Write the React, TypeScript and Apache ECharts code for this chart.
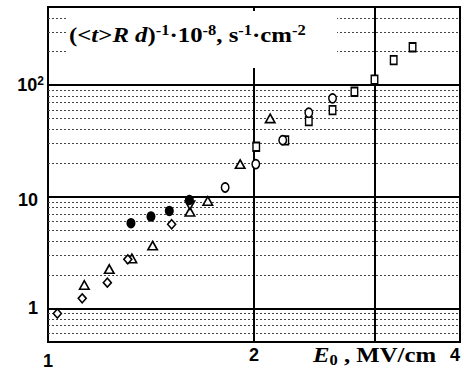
import React, { useEffect, useRef } from 'react';
import * as echarts from 'echarts';

const xTickValues = [1, 2, 4];
const yTickValues = [1, 10, 100];
const majorX = [2, 3];
const majorY = [1, 10, 100];
const minorY = [0.6, 0.7, 0.8, 0.9, 2, 3, 4, 5, 6, 7, 8, 9, 20, 30, 40, 50, 60, 70, 80, 90, 200, 300, 400];

const triangles = [[1.13, 1.62], [1.229, 2.25], [1.326, 2.8], [1.422, 3.65], [1.612, 7.35], [1.712, 9.17], [1.909, 19.6], [2.112, 50.3]];
const invTriangles = [[1.612, 8.4]];
const squares = [[2.015, 28.0], [2.222, 32.0], [2.405, 47.5], [2.605, 59.7], [2.804, 87.1], [3.0, 112], [3.2, 167], [3.41, 218]];
const openCircles = [[1.815, 12.1], [2.012, 19.6], [2.203, 32.1], [2.405, 56.5], [2.605, 76]];
const diamonds = [[1.032, 0.9], [1.122, 1.23], [1.221, 1.7], [1.308, 2.75], [1.516, 5.67]];
const filledCircles = [[1.322, 5.79], [1.414, 6.64], [1.504, 7.46], [1.609, 9.36]];

const SANS = 'Liberation Sans';
const SERIF = 'Liberation Serif';

export default function App() {
  const ref = useRef<HTMLDivElement>(null);
  useEffect(() => {
    if (!ref.current) return;
    const chart = echarts.init(ref.current, null, { renderer: 'svg' });
    const hollow = (name: string, data: number[][], symbol: string, size: number[], rotate = 0) => ({
      name,
      type: 'scatter',
      data,
      symbol,
      symbolSize: size,
      symbolRotate: rotate,
      z: 10,
      silent: true,
      itemStyle: { color: '#fff', borderColor: '#000', borderWidth: 1.6, opacity: 1 },
    });
    const option: any = {
      animation: false,
      backgroundColor: '#fff',
      grid: { left: 48, right: 4, top: 7, bottom: 34, show: true, borderColor: '#000', borderWidth: 2, backgroundColor: 'transparent' },
      xAxis: {
        type: 'log',
        logBase: 10,
        min: 1,
        max: 4,
        axisLine: { show: false },
        axisTick: { show: false },
        splitLine: { show: false },
        axisLabel: {
          customValues: xTickValues,
          margin: 4,
          fontFamily: SANS,
          fontWeight: 'bold',
          fontSize: 18,
          color: '#000',
          alignMaxLabel: 'right',
          formatter: (v: number) => (v === 1 ? '{d|1}' : '{n|' + v + '}'),
          rich: {
            d: { fontFamily: SANS, fontWeight: 'bold', fontSize: 18, color: '#000', padding: [6, 0, 0, 0] },
            n: { fontFamily: SANS, fontWeight: 'bold', fontSize: 18, color: '#000' },
          },
        },
      },
      yAxis: {
        type: 'log',
        logBase: 10,
        min: 0.5,
        max: 500,
        axisLine: { show: false },
        axisTick: { show: false },
        splitLine: { show: false },
        axisLabel: {
          customValues: yTickValues,
          margin: 4,
          fontFamily: SANS,
          fontWeight: 'bold',
          fontSize: 18,
          color: '#000',
          formatter: (v: number) => (v === 100 ? '{b|10}{sup|2}' : v === 10 ? '{c|10}' : '{a|1}'),
          rich: {
            a: { fontFamily: SANS, fontWeight: 'bold', fontSize: 18, color: '#000', padding: [0, 6, 0, 0] },
            c: { fontFamily: SANS, fontWeight: 'bold', fontSize: 18, color: '#000', padding: [6, 6, 0, 0] },
            b: { fontFamily: SANS, fontWeight: 'bold', fontSize: 18, color: '#000', lineHeight: 20 },
            sup: { fontFamily: SANS, fontWeight: 'bold', fontSize: 12, color: '#000', verticalAlign: 'top', lineHeight: 12 },
          },
        },
      },
      series: [
        {
          name: 'grid-lines',
          type: 'line',
          data: [],
          silent: true,
          z: 1,
          markLine: {
            silent: true,
            z: 1,
            symbol: ['none', 'none'],
            label: { show: false },
            emphasis: { disabled: true },
            animation: false,
            data: [
              ...minorY.map((v) => ({ yAxis: v, lineStyle: { color: '#444', width: 1, type: [2, 2] } })),
              ...majorY.map((v) => ({ yAxis: v, lineStyle: { color: '#000', width: 2, type: 'solid' } })),
              ...majorX.map((v) => ({ xAxis: v, lineStyle: { color: '#000', width: 2, type: 'solid' } })),
            ],
          },
        },
        hollow('triangles', triangles, 'triangle', [9.5, 8.5]),
        hollow('invTriangles', invTriangles, 'triangle', [9.5, 8.5], 180),
        hollow('squares', squares, 'rect', [6.5, 8.5]),
        hollow('openCircles', openCircles, 'circle', [7.5, 9]),
        hollow('diamonds', diamonds, 'diamond', [8, 9]),
        {
          name: 'filledCircles',
          type: 'scatter',
          data: filledCircles,
          symbol: 'circle',
          symbolSize: [9, 10.5],
          z: 11,
          silent: true,
          itemStyle: { color: '#000', opacity: 1 },
        },
      ],
      graphic: [
        { type: 'rect', z: 100, shape: { x: 66, y: 11, width: 271, height: 57 }, style: { fill: '#fff' } },
        {
          type: 'text',
          z: 101,
          x: 69,
          y: 35,
          scaleX: 1.18,
          style: {
            text: '{n|(<}{i|t}{n|>}{i|R d}{n|)}{s|-1}{n|·10}{s|-8}{n|, s}{s|-1}{n|·cm}{s|-2}',
            verticalAlign: 'middle',
            align: 'left',
            rich: {
              n: { fontFamily: SERIF, fontWeight: 'bold', fontSize: 21, lineHeight: 25, fill: '#000' },
              i: { fontFamily: SERIF, fontWeight: 'bold', fontStyle: 'italic', fontSize: 21, lineHeight: 25, fill: '#000' },
              s: { fontFamily: SERIF, fontWeight: 'bold', fontSize: 14, lineHeight: 15, verticalAlign: 'top', fill: '#000' },
            },
          },
        },
        {
          type: 'text',
          z: 101,
          x: 313,
          y: 355,
          scaleX: 1.18,
          style: {
            text: '{e|E}{sub|0}{n| , MV/cm}',
            verticalAlign: 'middle',
            align: 'left',
            rich: {
              e: { fontFamily: SERIF, fontWeight: 'bold', fontStyle: 'italic', fontSize: 21, lineHeight: 24, fill: '#000' },
              sub: { fontFamily: SERIF, fontWeight: 'bold', fontSize: 14, lineHeight: 14, verticalAlign: 'bottom', fill: '#000' },
              n: { fontFamily: SERIF, fontWeight: 'bold', fontSize: 21, lineHeight: 24, fill: '#000' },
            },
          },
        },
      ],
    };
    chart.setOption(option);
    return () => chart.dispose();
  }, []);
  return <div ref={ref} style={{ position: 'fixed', left: 0, top: 0, width: 464, height: 376 }} />;
}
